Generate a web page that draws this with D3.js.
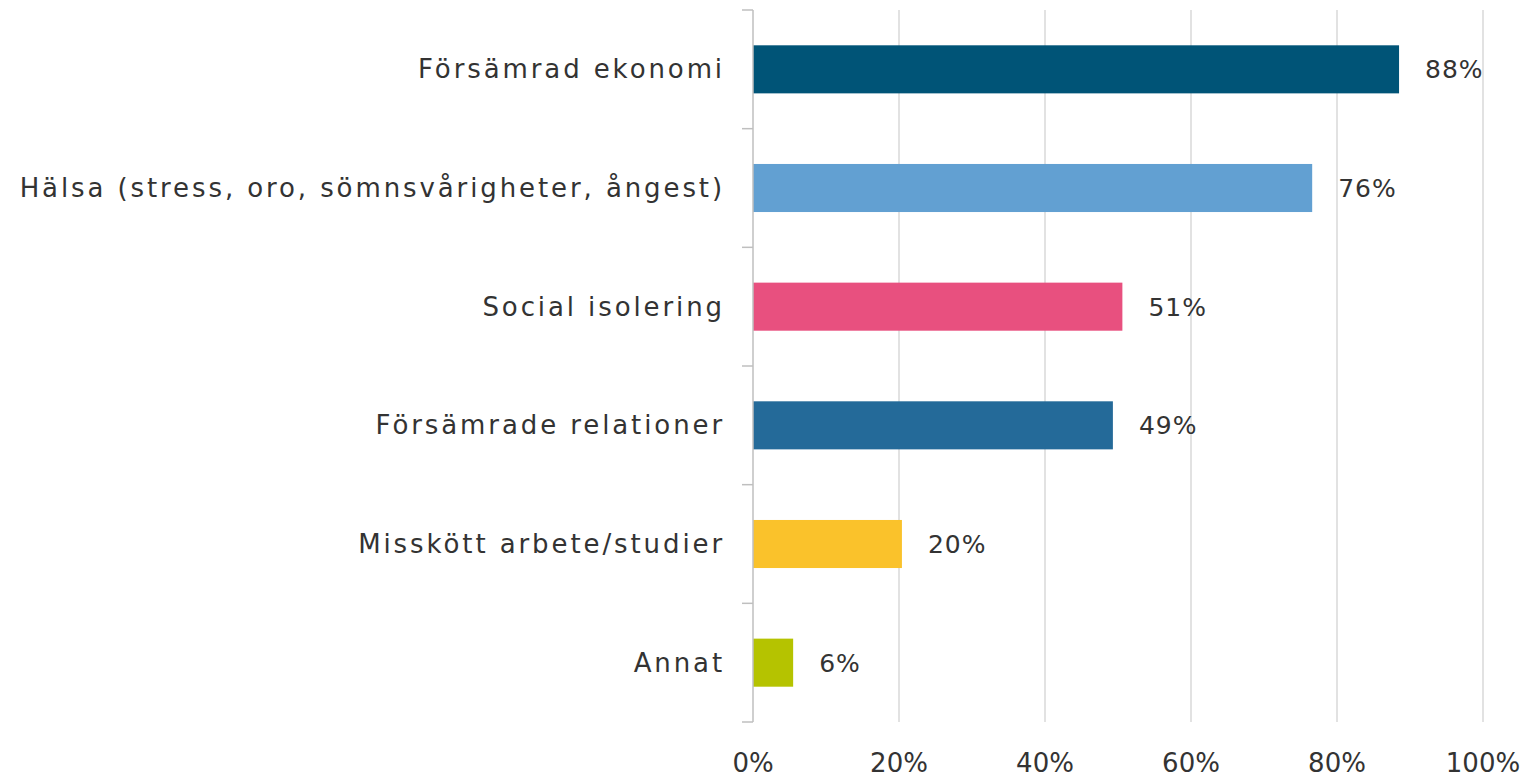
<!doctype html>
<html>
<head>
<meta charset="utf-8">
<style>
  body { margin: 0; background: #fff; }
  text { font-family: "DejaVu Sans", sans-serif; fill: #333; }
</style>
<script src="https://d3js.org/d3.v7.min.js"></script>
</head>
<body>
<svg width="1529" height="778"></svg>
<script>
var categories = ["Försämrad ekonomi", "Hälsa (stress, oro, sömnsvårigheter, ångest)", "Social isolering",
                  "Försämrade relationer", "Misskött arbete/studier", "Annat"];
var values = [88.5, 76.6, 50.6, 49.3, 20.4, 5.5];
var labels = ["88%", "76%", "51%", "49%", "20%", "6%"];
var colors = ["#005477", "#62a0d2", "#e8507f", "#246a99", "#fac22b", "#b5c300"];
var ticks = [0, 20, 40, 60, 80, 100];

var svg = d3.select("svg");
var plotLeft = 753, plotRight = 1483, plotTop = 10, plotBottom = 722;

var x = d3.scaleLinear().domain([0, 100]).range([plotLeft, plotRight]);
var y = d3.scaleBand().domain(categories).range([plotTop, plotBottom]).padding(0);
var barH = y.bandwidth() * 0.405;

// gridlines
svg.append("g").selectAll("line").data(ticks.slice(1)).enter().append("line")
  .attr("x1", function(d) { return x(d); }).attr("x2", function(d) { return x(d); })
  .attr("y1", plotTop).attr("y2", plotBottom)
  .attr("stroke", "#d9d9d9").attr("stroke-width", 1.5);

// bottom tick labels
svg.append("g").selectAll("text").data(ticks).enter().append("text")
  .attr("x", function(d) { return x(d); }).attr("y", 772)
  .attr("text-anchor", "middle").attr("font-size", 26)
  .text(function(d) { return d + "%"; });

// bars
svg.append("g").selectAll("rect").data(values).enter().append("rect")
  .attr("x", x(0))
  .attr("y", function(d, i) { return y(categories[i]) + (y.bandwidth() - barH) / 2; })
  .attr("width", function(d) { return x(d) - x(0); })
  .attr("height", barH)
  .attr("fill", function(d, i) { return colors[i]; });

// value labels
svg.append("g").selectAll("text").data(values).enter().append("text")
  .attr("x", function(d) { return x(d) + 26; })
  .attr("y", function(d, i) { return y(categories[i]) + y.bandwidth() / 2 + 9; })
  .attr("font-size", 25).attr("letter-spacing", 1)
  .text(function(d, i) { return labels[i]; });

// left axis
var axis = svg.append("g").attr("transform", "translate(" + plotLeft + ",0)");
axis.append("line").attr("x1", 0).attr("x2", 0).attr("y1", plotTop).attr("y2", plotBottom)
  .attr("stroke", "#bfbfbf").attr("stroke-width", 1.5);
var bounds = categories.map(function(c) { return y(c); }).concat([plotBottom]);
axis.selectAll(".tk").data(bounds).enter().append("line").attr("class", "tk")
  .attr("x1", -11).attr("x2", 0)
  .attr("y1", function(d) { return d; }).attr("y2", function(d) { return d; })
  .attr("stroke", "#bfbfbf").attr("stroke-width", 1.5);
axis.selectAll(".lbl").data(categories).enter().append("text").attr("class", "lbl")
  .attr("x", -28)
  .attr("y", function(d) { return y(d) + y.bandwidth() / 2 + 9; })
  .attr("text-anchor", "end").attr("font-size", 26).attr("letter-spacing", 2.9)
  .text(function(d) { return d; });
</script>
</body>
</html>
